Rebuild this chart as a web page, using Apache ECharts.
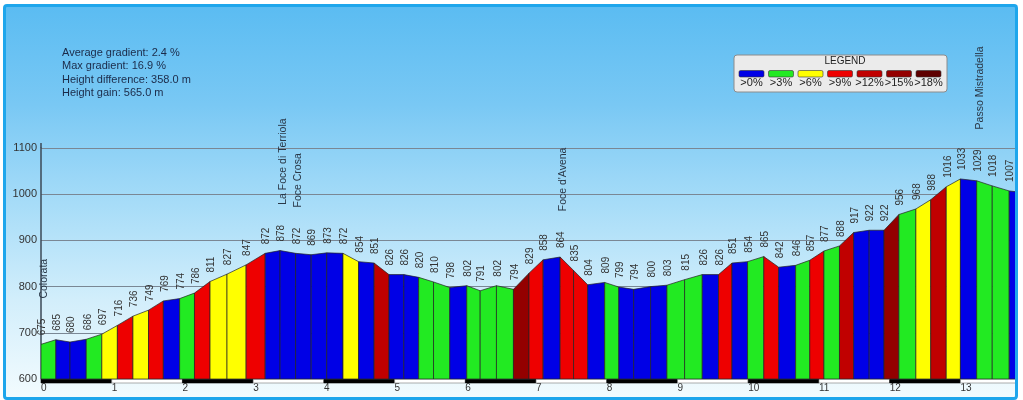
<!DOCTYPE html>
<html><head><meta charset="utf-8">
<script src="https://cdn.jsdelivr.net/npm/echarts@6/dist/echarts.min.js"></script>
<style>
html,body{margin:0;padding:0;background:#fff;width:1023px;height:400px;overflow:hidden;}
#wrap{position:absolute;left:3px;top:4px;width:1009px;height:390px;border:3px solid #1ea6ec;border-radius:4px;overflow:hidden;
background:linear-gradient(to bottom,#5bbcf2 0%,#79c8f4 25%,#a6dcf8 50%,#d2eefb 75%,#f2fbfe 100%);}
#chart{position:absolute;left:-6px;top:-7px;width:1023px;height:400px;}
</style></head>
<body><div id="wrap"><div id="chart"></div></div>
<script>
// ---- data ----
const distances = [0,0.21,0.41,0.64,0.86,1.08,1.30,1.52,1.73,1.96,
  2.17,2.39,2.63,2.90,3.17,3.38,3.60,3.82,4.04,4.27,
  4.49,4.71,4.92,5.13,5.34,5.55,5.78,6.02,6.21,6.44,
  6.68,6.90,7.10,7.34,7.53,7.73,7.97,8.17,8.38,8.62,
  8.85,9.10,9.35,9.58,9.77,9.99,10.22,10.43,10.67,10.87,
  11.07,11.29,11.49,11.71,11.92,12.13,12.37,12.58,12.80,13.00,
  13.23,13.45,13.69,13.92];
const elevations = [675,685,680,686,697,716,736,749,769,774,
  786,811,827,847,872,878,872,869,873,872,
  854,851,826,826,820,810,798,802,791,802,
  794,829,858,864,835,804,809,799,794,800,
  803,815,826,826,851,854,865,842,846,857,
  877,888,917,922,922,956,968,988,1016,1033,
  1029,1018,1007,1003];
// gradient class of each segment (index into gradeLabels)
const gradeClass = [1,0,0,1,2,3,2,3,0,1,
  3,2,2,3,0,0,0,0,0,2,
  0,4,0,0,1,1,0,1,1,1,
  5,3,0,3,3,0,1,0,0,0,
  1,1,0,3,0,1,3,0,1,3,
  1,4,0,0,5,1,2,4,2,0,
  1,1,0];
const gradeLabels = ['>0%','>3%','>6%','>9%','>12%','>15%','>18%'];
const placeIndex = [0,15,16,33,60];
const placeNames = ['Colorata','La Foce di Terriola','Foce Crosa',"Foce d'Avena",'Passo Mistradella'];
const statsLines = ['Average gradient: 2.4 %','Max gradient: 16.9 %','Height difference: 358.0 m','Height gain: 565.0 m'];
const kmMarks = [0,1,2,3,4,5,6,7,8,9,10,11,12,13];
const legendTitle = 'LEGEND';

// ---- styles ----
const palette = ['#0000e6','#22ea22','#ffff00','#ee0000','#c00000','#940000','#5e0000'];
const FONT = 'Liberation Sans';
const X_MAX = 13.8;

const segData = gradeClass.map((c,i)=>[distances[i],elevations[i],distances[i+1],elevations[i+1],c]);
const ptData = elevations.map((e,i)=>[distances[i],e,i]);
const barData = kmMarks.map(k=>[k,600,Math.min(k+1,X_MAX)]);

const chart = echarts.init(document.getElementById('chart'));

const legendItems = [];
legendItems.push({type:'rect',shape:{x:734,y:55,width:213,height:37,r:3},style:{fill:'#ebebeb',stroke:'#8c8c8c',lineWidth:1}});
legendItems.push({type:'text',x:845,y:61,style:{text:legendTitle,align:'center',verticalAlign:'middle',font:'10px '+FONT,fill:'#222'}});
gradeLabels.forEach((lab,k)=>{
  const x = 739 + k*29.5;
  legendItems.push({type:'rect',shape:{x:x,y:70.5,width:25,height:6.5,r:1.5},style:{fill:palette[k],stroke:'#333',lineWidth:0.6}});
  legendItems.push({type:'text',x:x+12.5,y:83,style:{text:lab,align:'center',verticalAlign:'middle',font:'11px '+FONT,fill:'#222'}});
});

const option = {
  animation:false,
  grid:{left:41,right:6,top:148,bottom:21},
  xAxis:{type:'value',min:0,max:X_MAX,interval:1,
    axisLine:{show:false},axisTick:{show:false},splitLine:{show:false},
    axisLabel:{showMaxLabel:false,margin:4,align:'left',color:'#333',fontSize:10,fontFamily:FONT}},
  yAxis:{type:'value',min:600,max:1100,interval:100,
    axisLine:{show:true,lineStyle:{color:'#3b4856',width:1.5}},axisTick:{show:false},
    splitLine:{lineStyle:{color:'#7a8794',width:1}},
    axisLabel:{color:'#333',fontSize:11,margin:4,fontFamily:FONT,formatter:v=>String(v)}},
  graphic:[
    {type:'text',left:62,top:46,z:10,style:{text:statsLines.join('\n'),font:'11px '+FONT,lineHeight:13.4,fill:'#1b2a48'}},
    {type:'group',z:10,children:legendItems}
  ],
  series:[
    {type:'custom',clip:true,data:segData,encode:{x:[0,2],y:[1,3]},z:2,
      renderItem:function(params,api){
        const a = api.coord([api.value(0),api.value(1)]);
        const b = api.coord([api.value(2),api.value(3)]);
        const base = api.coord([api.value(0),600])[1];
        return {type:'polygon',shape:{points:[[a[0],base],a,b,[b[0],base]]},
          style:{fill:palette[api.value(4)],stroke:'#222',lineWidth:0.7}};
      }},
    {type:'custom',data:barData,encode:{x:[0,2],y:1},z:3,silent:true,
      renderItem:function(params,api){
        const a = api.coord([api.value(0),api.value(1)]);
        const b = api.coord([api.value(2),api.value(1)]);
        const even = api.value(0)%2===0;
        const top = api.coord([api.value(0),1100]);
        const items = [{type:'rect',shape:{x:a[0],y:a[1]+0.5,width:b[0]-a[0],height:3.5},
          style:{fill:even?'#000':'#fff',stroke:even?'#000':'#777',lineWidth:0.6}}];
        if(api.value(0)===0){
          items.push({type:'line',shape:{x1:a[0],y1:top[1]-5,x2:a[0],y2:top[1]},style:{stroke:'#3b4856',lineWidth:1.5}});
        }
        return {type:'group',children:items};
      }},
    {type:'custom',data:ptData,encode:{x:0,y:1},z:4,silent:true,
      renderItem:function(params,api){
        const p = api.coord([api.value(0),api.value(1)]);
        const idx = api.value(2);
        const txt = String(api.value(1));
        const children = [{type:'text',x:p[0]+1.5,y:p[1]-9,rotation:Math.PI/2,
          style:{text:txt,align:'left',verticalAlign:'middle',font:'10px '+FONT,fill:'#333'}}];
        const pi = placeIndex.indexOf(idx);
        if(pi>=0){
          children.push({type:'text',x:p[0]+3,y:p[1]-9-txt.length*5.6-20,rotation:Math.PI/2,
            style:{text:placeNames[pi],align:'left',verticalAlign:'middle',font:'10.5px '+FONT,fill:'#2a3848'}});
        }
        return {type:'group',children:children};
      }}
  ]
};
chart.setOption(option);
</script>
</body></html>
